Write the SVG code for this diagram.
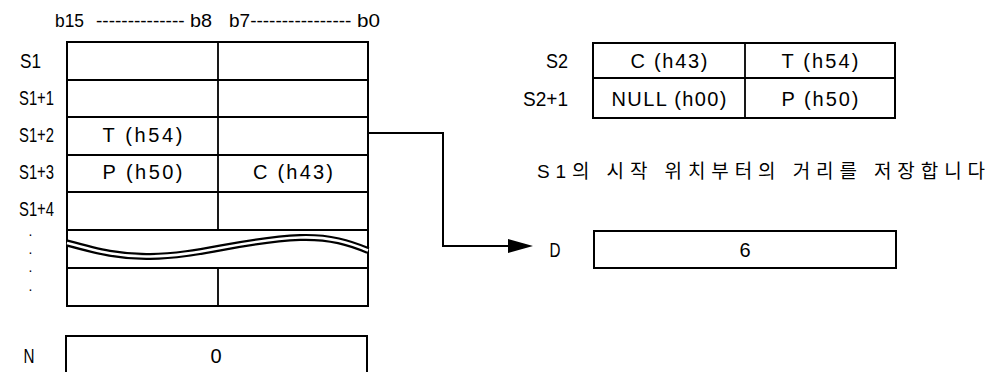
<svg xmlns="http://www.w3.org/2000/svg" width="993" height="372" viewBox="0 0 993 372">
<style>
  .lbl { font-family: "Liberation Sans", Arial, sans-serif; font-size: 20px; fill: #000; }
  .hdr { font-family: "Liberation Sans", Arial, sans-serif; font-size: 19px; fill: #000; }
  .cell { font-family: "Liberation Sans", Arial, sans-serif; font-size: 20px; fill: #000; text-anchor: middle; }
  .kr { font-family: "Liberation Sans", "Noto Sans CJK KR", sans-serif; font-size: 19px; fill: #000; }
  .dots { font-family: "Liberation Sans", Arial, sans-serif; font-size: 14px; fill: #000; }
  .box { fill: #fff; stroke: #000; stroke-width: 2; }
  .ln { stroke: #000; stroke-width: 1.8; fill: none; }
  .conn { stroke: #000; stroke-width: 2; fill: none; }
</style>
<defs>
  <marker id="arrow" markerUnits="userSpaceOnUse" markerWidth="27" markerHeight="16" refX="1" refY="8" orient="auto">
    <path d="M0,1 L25,8 L0,15 Z" fill="#000"/>
  </marker>
</defs>
<rect width="993" height="372" fill="#fff"/>

<g id="header">
  <text class="hdr" y="27"><tspan x="55" textLength="29" lengthAdjust="spacingAndGlyphs">b15</tspan><tspan x="96">--------------</tspan><tspan x="190" textLength="22" lengthAdjust="spacingAndGlyphs">b8</tspan><tspan x="229">b7----------------</tspan><tspan x="357" textLength="23" lengthAdjust="spacingAndGlyphs">b0</tspan></text>
</g>

<g id="s1-table">
  <rect class="box" x="67" y="42" width="301" height="264"/>
  <path class="ln" d="M67,80 H368 M67,117 H368 M67,155 H368 M67,192 H368 M67,230 H368 M67,268 H368"/>
  <path class="ln" d="M218,42 V230 M218,268 V306"/>
  <path d="M67,243 C100,252 120,257 150,256.5 C200,256 240,240 300,237.5 C330,236.5 350,243 368,250.5" fill="none" stroke="#000" stroke-width="7"/>
  <path d="M67,243 C100,252 120,257 150,256.5 C200,256 240,240 300,237.5 C330,236.5 350,243 368,250.5" fill="none" stroke="#fff" stroke-width="2.6"/>
  <text class="cell" x="142.5" y="142" textLength="80" lengthAdjust="spacing">T (h54)</text>
  <text class="cell" x="142.5" y="179" textLength="80" lengthAdjust="spacing">P (h50)</text>
  <text class="cell" x="293" y="179" textLength="80" lengthAdjust="spacing">C (h43)</text>
</g>

<g id="s1-labels">
  <text class="lbl" x="20" y="68" textLength="21" lengthAdjust="spacingAndGlyphs">S1</text>
  <text class="lbl" x="19" y="105" textLength="35" lengthAdjust="spacingAndGlyphs">S1+1</text>
  <text class="lbl" x="19" y="142" textLength="35" lengthAdjust="spacingAndGlyphs">S1+2</text>
  <text class="lbl" x="19" y="179" textLength="35" lengthAdjust="spacingAndGlyphs">S1+3</text>
  <text class="lbl" x="19" y="216" textLength="35" lengthAdjust="spacingAndGlyphs">S1+4</text>
  <text class="dots"><tspan x="28.5" y="236">.</tspan><tspan x="28.5" y="254">.</tspan><tspan x="28.5" y="272">.</tspan><tspan x="28.5" y="291">.</tspan></text>
</g>

<g id="n-box">
  <rect class="box" x="66" y="336" width="301" height="60"/>
  <text class="lbl" x="29" y="363" text-anchor="middle" textLength="11" lengthAdjust="spacingAndGlyphs">N</text>
  <text class="cell" x="216" y="363">0</text>
</g>

<g id="s2-table">
  <rect class="box" x="593" y="43" width="302" height="75"/>
  <path class="ln" d="M593,78 H895 M745,43 V118"/>
  <text class="lbl" x="568" y="68" text-anchor="end" textLength="22" lengthAdjust="spacingAndGlyphs">S2</text>
  <text class="lbl" x="568" y="106" text-anchor="end" textLength="45" lengthAdjust="spacingAndGlyphs">S2+1</text>
  <text class="cell" x="669" y="68" textLength="77" lengthAdjust="spacing">C (h43)</text>
  <text class="cell" x="820" y="68" textLength="77" lengthAdjust="spacing">T (h54)</text>
  <text class="cell" x="669" y="106" textLength="115" lengthAdjust="spacing">NULL (h00)</text>
  <text class="cell" x="820" y="106" textLength="77" lengthAdjust="spacing">P (h50)</text>
</g>

<g id="note">
  <text class="kr" x="537" y="178" textLength="448" lengthAdjust="spacing">S1의 시작 위치부터의 거리를 저장합니다</text>
</g>

<g id="d-box">
  <rect class="box" x="594" y="231" width="302" height="37"/>
  <text class="lbl" x="555" y="257" text-anchor="middle" textLength="11" lengthAdjust="spacingAndGlyphs">D</text>
  <text class="cell" x="745" y="257">6</text>
</g>

<g id="connectors">
  <path class="conn" d="M368,133 H443 V246 H509" marker-end="url(#arrow)"/>
</g>
</svg>
